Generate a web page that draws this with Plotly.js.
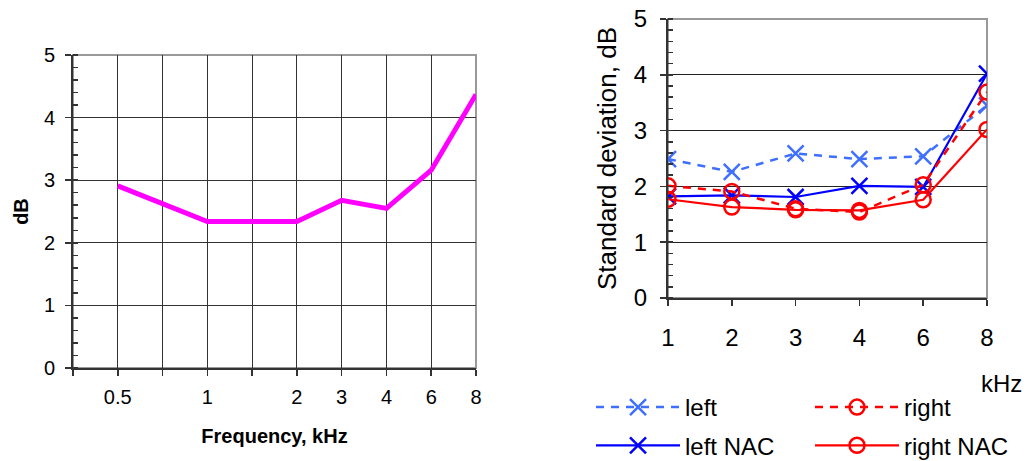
<!DOCTYPE html>
<html>
<head>
<meta charset="utf-8">
<script src="https://cdn.plot.ly/plotly-3.0.1.min.js"></script>
<style>html,body{margin:0;padding:0;background:#fff;}#chart{width:1027px;height:461px;}</style>
</head>
<body>
<div id="chart"></div>
<script>
// ---- Left chart data ----
const leftSlots = ['', '0.5', '', '1', '', '2', '3', '4', '6', '8']; // axis category slots
const leftFreq = ['0.5', '1', '2', '3', '4', '6', '8'];
const leftValues = [2.91, 2.34, 2.34, 2.68, 2.55, 3.16, 4.37];

// ---- Right chart data ----
const rightFreq = ['1', '2', '3', '4', '6', '8'];
const sdLeft = [2.49, 2.26, 2.59, 2.49, 2.54, 3.45];
const sdRight = [2.01, 1.91, 1.60, 1.54, 2.03, 3.69];
const sdLeftNAC = [1.82, 1.84, 1.81, 2.01, 1.99, 4.02];
const sdRightNAC = [1.77, 1.63, 1.58, 1.57, 1.76, 3.02];

const FONT = 'Liberation Sans, Arial, sans-serif';
const leftX = leftFreq.map(f => leftSlots.indexOf(f));

const traces = [
  {x: leftX, y: leftValues, xaxis: 'x', yaxis: 'y', mode: 'lines',
   line: {color: '#FF00FF', width: 5}, showlegend: false, hoverinfo: 'skip'},
  {x: rightFreq, y: sdLeft, xaxis: 'x2', yaxis: 'y2', mode: 'lines+markers', name: 'left',
   line: {color: '#3F6FFF', width: 2.5, dash: '8px,7px'},
   marker: {symbol: 'x-thin-open', size: 16, line: {color: '#3F6FFF', width: 2.5}},
   legend: 'legend', legendgroup: 'a'},
  {x: rightFreq, y: sdLeftNAC, xaxis: 'x2', yaxis: 'y2', mode: 'lines+markers', name: 'left NAC',
   line: {color: '#0000FF', width: 2.2},
   marker: {symbol: 'x-thin-open', size: 16, line: {color: '#0000FF', width: 2.5}},
   legend: 'legend', legendgroup: 'b'},
  {x: rightFreq, y: sdRight, xaxis: 'x2', yaxis: 'y2', mode: 'lines+markers', name: 'right',
   line: {color: '#FF0000', width: 2.5, dash: '8px,7px'},
   marker: {symbol: 'circle-open', size: 15, line: {color: '#FF0000', width: 2.5}},
   legend: 'legend2', legendgroup: 'c'},
  {x: rightFreq, y: sdRightNAC, xaxis: 'x2', yaxis: 'y2', mode: 'lines+markers', name: 'right NAC',
   line: {color: '#FF0000', width: 2.2},
   marker: {symbol: 'circle-open', size: 15, line: {color: '#FF0000', width: 2.5}},
   legend: 'legend2', legendgroup: 'd'}
];

const W = 1027, H = 461;
const legendCommon = {
  orientation: 'v', itemwidth: 84, bgcolor: 'rgba(0,0,0,0)', borderwidth: 0,
  font: {family: FONT, size: 24, color: '#000'}, tracegroupgap: 4,
  xanchor: 'left', yanchor: 'top', traceorder: 'grouped'
};

const layout = {
  width: W, height: H,
  margin: {l: 0, r: 0, t: 0, b: 0, autoexpand: false},
  paper_bgcolor: '#fff', plot_bgcolor: '#fff',
  font: {family: FONT, color: '#000'},
  showlegend: true,
  xaxis: {
    domain: [73 / W, 476 / W], anchor: 'y',
    range: [0, leftSlots.length - 1], tickmode: 'array',
    tickvals: leftSlots.map((s, i) => i), ticktext: leftSlots,
    showgrid: true, gridcolor: '#333', gridwidth: 1, zeroline: false,
    showline: true, linecolor: '#333', linewidth: 2,
    ticks: 'outside', ticklen: 6, tickcolor: '#333', tickwidth: 1.5,
    ticklabelstandoff: 4,
    tickfont: {family: FONT, size: 20},
    title: {text: 'Frequency, kHz', font: {family: FONT, size: 20, weight: 700}, standoff: 22}
  },
  yaxis: {
    domain: [1 - 368 / H, 1 - 55 / H], anchor: 'x',
    range: [0, 5], dtick: 1, showgrid: true, gridcolor: '#333', gridwidth: 1, zeroline: false,
    showline: true, linecolor: '#333', linewidth: 2,
    ticks: 'outside', ticklen: 6, tickcolor: '#333', tickwidth: 1.5,
    ticklabelstandoff: 6,
    minor: {dtick: 0.2, ticks: 'inside', ticklen: 5, tickcolor: '#333', tickwidth: 1.5, showgrid: false},
    tickfont: {family: FONT, size: 20},
    title: {text: 'dB', font: {family: FONT, size: 20, weight: 700}, standoff: 10}
  },
  xaxis2: {
    domain: [668 / W, 987 / W], anchor: 'y2', type: 'category',
    categoryorder: 'array', categoryarray: rightFreq,
    range: [0, rightFreq.length - 1], showgrid: false, zeroline: false,
    showline: true, linecolor: '#333', linewidth: 2,
    ticks: 'outside', ticklen: 6, tickcolor: '#333', tickwidth: 1.5,
    ticklabelstandoff: 11,
    tickfont: {family: FONT, size: 24}
  },
  yaxis2: {
    domain: [1 - 298 / H, 1 - 19 / H], anchor: 'x2',
    range: [0, 5], dtick: 1, showgrid: true, gridcolor: '#222', gridwidth: 1, zeroline: false,
    showline: true, linecolor: '#333', linewidth: 2,
    ticks: 'outside', ticklen: 6, tickcolor: '#333', tickwidth: 1.5,
    ticklabelstandoff: 8,
    minor: {dtick: 0.2, ticks: 'inside', ticklen: 5, tickcolor: '#333', tickwidth: 1.5, showgrid: false},
    tickfont: {family: FONT, size: 24},
    title: {text: 'Standard deviation, dB', font: {family: FONT, size: 26}, standoff: 10}
  },
  shapes: [
    {type: 'rect', xref: 'x domain', yref: 'y domain', x0: 0, x1: 1, y0: 0, y1: 1,
     line: {color: '#999', width: 2}, layer: 'below'},
    {type: 'rect', xref: 'x2 domain', yref: 'y2 domain', x0: 0, x1: 1, y0: 0, y1: 1,
     line: {color: '#999', width: 2}, layer: 'below'}
  ],
  annotations: [
    {text: 'kHz', xref: 'paper', yref: 'paper', x: 1001 / W, y: 1 - 383 / H,
     xanchor: 'center', yanchor: 'middle', showarrow: false,
     font: {family: FONT, size: 24, color: '#000'}}
  ],
  legend: Object.assign({}, legendCommon, {x: 591 / W, y: 1 - 385 / H}),
  legend2: Object.assign({}, legendCommon, {x: 810 / W, y: 1 - 385 / H})
};

Plotly.newPlot('chart', traces, layout, {staticPlot: true, displayModeBar: false});
</script>
</body>
</html>
